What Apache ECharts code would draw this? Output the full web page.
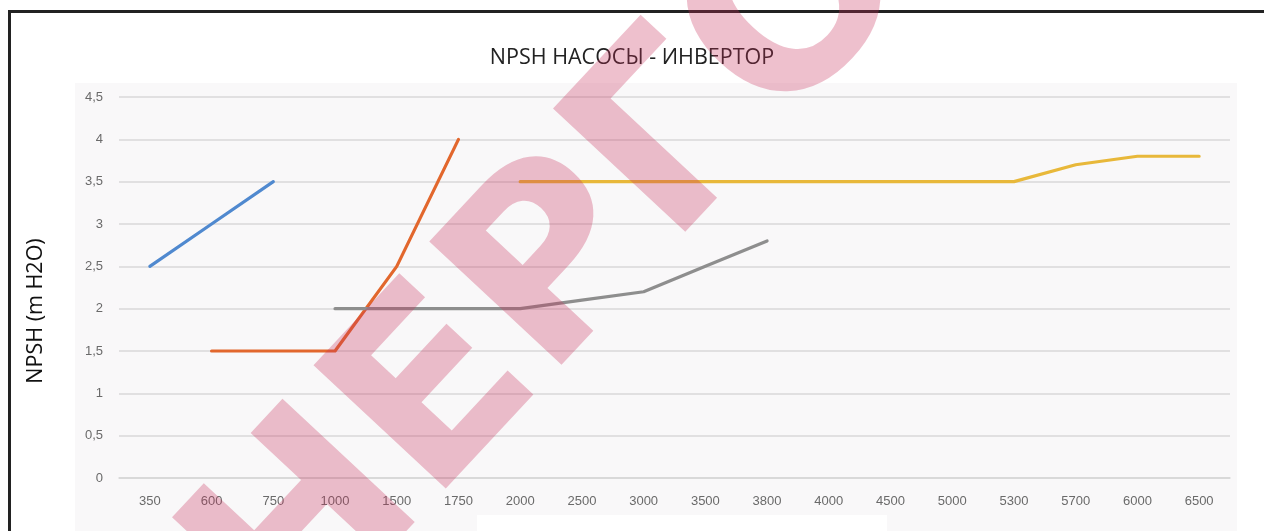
<!DOCTYPE html>
<html>
<head>
<meta charset="utf-8">
<script src="https://cdn.jsdelivr.net/npm/echarts@6/dist/echarts.min.js"></script>
<style>
html,body{margin:0;padding:0;background:#ffffff;}
#chart{width:1264px;height:531px;}
</style>
</head>
<body>
<div id="chart"></div>
<script>
const categories = ['350','600','750','1000','1500','1750','2000','2500','3000','3500','3800','4000','4500','5000','5300','5700','6000','6500'];
const seriesBlue   = [2.5, 3.0, 3.5, null, null, null, null, null, null, null, null, null, null, null, null, null, null, null];
const seriesOrange = [null, 1.5, 1.5, 1.5, 2.5, 4.0, null, null, null, null, null, null, null, null, null, null, null, null];
const seriesGray   = [null, null, null, 2.0, 2.0, 2.0, 2.0, 2.1, 2.2, 2.5, 2.8, null, null, null, null, null, null, null];
const seriesYellow = [null, null, null, null, null, null, 3.5, 3.5, 3.5, 3.5, 3.5, 3.5, 3.5, 3.5, 3.5, 3.7, 3.8, 3.8];
const titleText = 'NPSH НАСОСЫ - ИНВЕРТОР';
const yAxisName = 'NPSH (m H2O)';
const watermarkText = 'НЕРГО';

const chart = echarts.init(document.getElementById('chart'), null, {renderer: 'canvas'});
function lineSeries(data, color) {
  return {
    type: 'line', data: data, showSymbol: false, symbol: 'none', smooth: false,
    connectNulls: false,
    lineStyle: {color: color, width: 3.2, cap: 'round', join: 'round'},
    itemStyle: {color: color}, z: 3
  };
}
chart.setOption({
  animation: false,
  backgroundColor: '#ffffff',
  title: {
    text: titleText, left: 'center', top: 42,
    textStyle: {fontFamily: 'Open Sans', fontSize: 21.5, fontWeight: 'normal', color: '#222222'}
  },
  grid: {left: 119, right: 34, top: 97, bottom: 53},
  xAxis: {
    type: 'category', data: categories, boundaryGap: true,
    axisLine: {show: true, lineStyle: {color: '#d6d6d6', width: 1.5}},
    axisTick: {show: false},
    axisLabel: {color: '#6a6a6a', fontFamily: 'Liberation Sans', fontSize: 13, margin: 17, interval: 0},
    splitLine: {show: false}
  },
  yAxis: {
    type: 'value', min: 0, max: 4.5, interval: 0.5,
    axisLine: {show: false}, axisTick: {show: false},
    axisLabel: {color: '#6a6a6a', fontFamily: 'Liberation Sans', fontSize: 13, margin: 16,
      formatter: v => String(v).replace('.', ',')},
    splitLine: {show: true, lineStyle: {color: '#d9d9d9', width: 1.5}}
  },
  graphic: [
    {type: 'rect', z: -10, silent: true, shape: {x: 75, y: 83, width: 1162, height: 448}, style: {fill: '#f9f8f9'}},
    {type: 'rect', z: -9, silent: true, shape: {x: 477, y: 515, width: 410, height: 16}, style: {fill: '#ffffff'}},
    {type: 'line', z: 50, silent: true, shape: {x1: 8, y1: 11.5, x2: 1264, y2: 11.5}, style: {stroke: '#222222', lineWidth: 3}},
    {type: 'line', z: 50, silent: true, shape: {x1: 9.5, y1: 10, x2: 9.5, y2: 531}, style: {stroke: '#222222', lineWidth: 3}},
    {type: 'text', z: 60, silent: true, x: 36, y: 311, rotation: Math.PI / 2,
      style: {text: yAxisName, font: '21.5px "Open Sans"', fill: '#111111', align: 'center', verticalAlign: 'middle'}},
    {type: 'text', z: 100, silent: true, x: 558, y: 274, rotation: 47 * Math.PI / 180,
      style: {text: watermarkText, font: 'bold 248px "DejaVu Sans"', fill: 'rgba(200,45,90,0.30)',
        align: 'center', verticalAlign: 'middle'}}
  ],
  series: [
    lineSeries(seriesBlue, '#5089cf'),
    lineSeries(seriesOrange, '#e2672d'),
    lineSeries(seriesGray, '#8e8e8e'),
    lineSeries(seriesYellow, '#e8b83a')
  ]
});
</script>
</body>
</html>
